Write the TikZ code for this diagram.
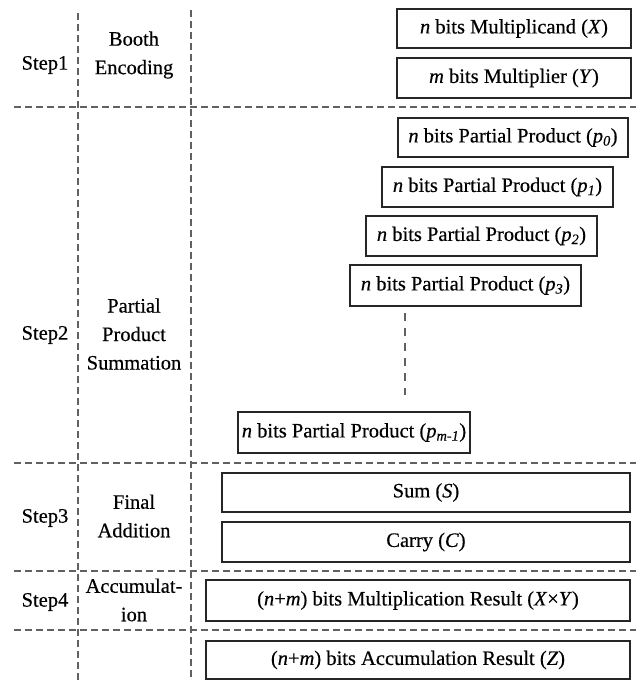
\documentclass[tikz,border=0pt]{standalone}
\usepackage{fontspec}
\setmainfont{Liberation Serif}[FakeBold=0.4]
\begin{document}
\begin{tikzpicture}[x=1pt,y=-1pt,
  box/.style={draw=black!85, line width=1.8pt, inner sep=0pt, font=\fontsize{20.5}{24}\selectfont},
  sep/.style={draw=black!62, line width=2pt, dash pattern=on 7pt off 4pt},
  lbl/.style={align=center, font=\fontsize{20.5}{28.5}\selectfont, inner sep=0pt}]
\useasboundingbox (0,0) rectangle (636,681);

% separators
\coordinate (v1t) at (78,13);  \coordinate (v1b) at (78,681);
\coordinate (v2t) at (191,10); \coordinate (v2b) at (191,681);
\coordinate (h1l) at (14,107); \coordinate (h1r) at (636,107);
\coordinate (h2l) at (14,463); \coordinate (h2r) at (636,463);
\coordinate (h3l) at (14,571); \coordinate (h3r) at (636,571);
\coordinate (h4l) at (14,630); \coordinate (h4r) at (636,630);
\draw[sep] (v1t) -- (v1b);
\draw[sep] (v2t) -- (v2b);
\draw[sep] (h1l) -- (h1r);
\draw[sep] (h2l) -- (h2r);
\draw[sep] (h3l) -- (h3r);
\draw[sep] (h4l) -- (h4r);

% labels
\node[lbl] (s1) at (45,65) {Step1};
\node[lbl] (n1) at (134,55) {Booth\\Encoding};
\node[lbl] (s2) at (45,335) {Step2};
\node[lbl] (n2) at (134,334) {Partial\\Product\\Summation};
\node[lbl] (s3) at (45,518) {Step3};
\node[lbl] (n3) at (134,516) {Final\\Addition};
\node[lbl] (s4) at (45,602) {Step4};
\node[lbl] (n4) at (134,600) {Accumulat-\\ion};

% boxes
\node[box, minimum width=234pt, minimum height=39pt] (bx) at (514,28.5) {\textit{n} bits Multiplicand (\textit{X})};
\node[box, minimum width=234pt, minimum height=40pt] (by) at (514,78) {\textit{m} bits Multiplier (\textit{Y})};
\node[box, minimum width=230pt, minimum height=39pt] (p0) at (513,137.5) {\textit{n} bits Partial Product (\textit{p}\textsubscript{\textit{0}})};
\node[box, minimum width=231pt, minimum height=40pt] (p1) at (497.5,187) {\textit{n} bits Partial Product (\textit{p}\textsubscript{\textit{1}})};
\node[box, minimum width=231pt, minimum height=40pt] (p2) at (481.5,236) {\textit{n} bits Partial Product (\textit{p}\textsubscript{\textit{2}})};
\node[box, minimum width=231pt, minimum height=41pt] (p3) at (465.5,285.5) {\textit{n} bits Partial Product (\textit{p}\textsubscript{\textit{3}})};
\node[box, minimum width=232pt, minimum height=41pt] (pm) at (354,432.5) {\textit{n} bits Partial Product (\textit{p}\textsubscript{\textit{m-1}})};
\node[box, minimum width=408pt, minimum height=39pt] (sum) at (426,492.5) {Sum (\textit{S})};
\node[box, minimum width=408pt, minimum height=40pt] (carry) at (426,542) {Carry (\textit{C})};
\node[box, minimum width=424pt, minimum height=41pt] (mr) at (418,600.5) {(\textit{n}+\textit{m}) bits Multiplication Result (\textit{X}×\textit{Y})};
\node[box, minimum width=424pt, minimum height=38pt] (ar) at (418,660) {(\textit{n}+\textit{m}) bits Accumulation Result (\textit{Z})};

% continuation dots
\coordinate (dt) at (405,313); \coordinate (db) at (405,395);
\draw[sep, dash pattern=on 8pt off 7pt] (dt) -- (db);
\end{tikzpicture}
\end{document}
